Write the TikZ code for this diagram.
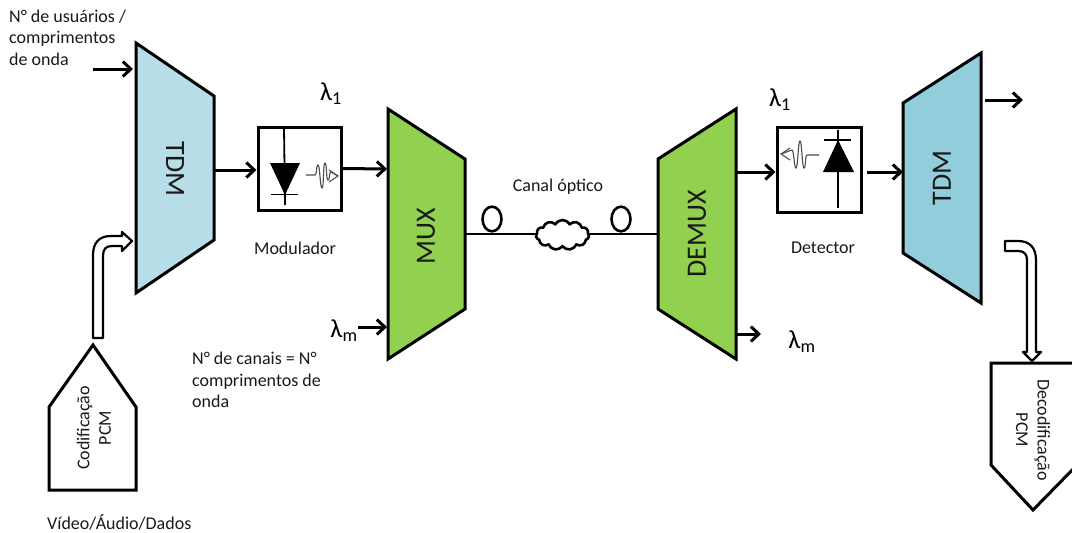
\documentclass[tikz,border=0pt]{standalone}
\usepackage{fontspec}
\setmainfont{Carlito}
\usetikzlibrary{shapes.symbols,arrows.meta}
\tikzset{
  lbl/.style={font=\fontsize{18}{21.5}\selectfont,inner sep=0pt,align=left,text=black!90},
  lam/.style={font=\fontsize{26}{26}\selectfont,inner sep=0pt},
  blocktxt/.style={font=\fontsize{28}{28}\selectfont,inner sep=0pt,text=black!90},
  trap/.style={draw=black,line width=3pt,line join=miter},
  box/.style={draw=black,line width=3pt,fill=white,inner sep=0pt},
  flow/.style={draw=black,line width=3pt,-{Straight Barb[length=8pt,width=15pt,line width=3pt]}},
  hollow/.style={draw=black,line width=2.2pt,fill=white,line join=round},
  penta/.style={draw=black,line width=3pt,fill=white,line join=miter},
  wave/.style={draw=black!70,line width=1.1pt},
  diode/.style={draw=black,line width=1.8pt},
  fibre/.style={draw=black,line width=2.6pt}
}
\begin{document}
\begin{tikzpicture}[x=1pt,y=-1pt]
\useasboundingbox (0,0) rectangle (1072,533);
\clip (0,0) rectangle (1072,533);
% blocks
\draw[trap,fill={rgb,255:red,183;green,221;blue,232}] (136,43)--(214,96)--(214,240)--(136,293)--cycle;
\draw[trap,fill={rgb,255:red,146;green,205;blue,220}] (903,103)--(981,53)--(981,303)--(903,253)--cycle;
\draw[trap,fill={rgb,255:red,146;green,208;blue,80}] (388,109)--(465,159)--(465,309)--(388,359)--cycle;
\draw[trap,fill={rgb,255:red,146;green,208;blue,80}] (658,159)--(736,109)--(736,359)--(658,309)--cycle;
\node[blocktxt,rotate=-90] (tdmA) at (175,169) {TDM};
\node[blocktxt,rotate=90] (tdmB) at (942,178) {TDM};
\node[blocktxt,rotate=90] (mux) at (426,236) {MUX};
\node[blocktxt,rotate=90] (demux) at (697,234) {DEMUX};
% anchors on the block edges
\coordinate (tdmAin) at (133,69);
\coordinate (tdmAinFree) at (93,69);
\coordinate (tdmAout) at (214,170);
\coordinate (muxIn) at (387,169);
\coordinate (muxIn2) at (387,327);
\coordinate (muxIn2Free) at (358,327);
\coordinate (muxOut) at (465,234);
\coordinate (demuxIn) at (658,234);
\coordinate (demuxOut) at (737,172);
\coordinate (demuxOut2) at (737,334);
\coordinate (demuxOut2Free) at (761,334);
\coordinate (tdmBin) at (903,172);
\coordinate (tdmBinFree) at (867,172);
\coordinate (tdmBout) at (985,100);
\coordinate (tdmBoutFree) at (1023,100);
% modulator and detector boxes
\node[box,minimum width=83pt,minimum height=83pt] (mod) at (299.5,168.5) {};
\node[box,minimum width=84pt,minimum height=85pt] (det) at (819,169.5) {};
% modulator content
\draw[diode] (284,127)--(285,205);
\fill[black] (270,163)--(300,163)--(285,195)--cycle;
\draw[diode] (271,194.5)--(298,194.5);
\draw[wave] (306,175)--(315,175) .. controls (317,175) and (316,165) .. (318,165) .. controls (320,165) and (320,188) .. (322,188) .. controls (324,188) and (323,163) .. (325,163) .. controls (327,163) and (326,180) .. (328,180) .. controls (330,180) and (329,172) .. (331,172) -- (338,176);
\draw[wave] (329,170)--(338,176)--(329,182);
% detector content
\draw[diode] (838,130)--(838,208);
\fill[black] (823,172)--(854,172)--(838,140)--cycle;
\draw[diode] (824,140)--(851,140);
\draw[wave] (819,155)--(807,155) .. controls (805,155) and (806,168) .. (804,168) .. controls (802,168) and (802,141) .. (800,141) .. controls (798,141) and (798,168) .. (796,168) .. controls (794,168) and (794,150) .. (792,150) -- (781,154);
\draw[wave] (790,148)--(781,154)--(790,160);
% flow arrows
\draw[flow] (tdmAinFree)--(tdmAin);
\draw[flow] (tdmAout)--(mod.west |- tdmAout);
\draw[flow] (mod.east)--(muxIn);
\draw[flow] (muxIn2Free)--(muxIn2);
\draw[flow] (demuxOut)--(det.west |- tdmBin);
\draw[flow] (tdmBinFree)--(tdmBin);
\draw[flow] (demuxOut2)--(demuxOut2Free);
\draw[flow] (tdmBout)--(tdmBoutFree);
% fibre
\node[draw=black,line width=2.6pt,circle,minimum size=19pt,inner sep=0pt,yscale=1.3] (loopA) at (492,219) {};
\node[draw=black,line width=2.6pt,circle,minimum size=19pt,inner sep=0pt,yscale=1.3] (loopB) at (621,219) {};
\draw[fibre] (muxOut)--(demuxIn);
\node[draw=black,line width=2.6pt,fill=white,cloud,cloud puffs=11,cloud puff arc=120,aspect=2,minimum width=53pt,minimum height=30pt,inner sep=0pt] (cloudN) at (562.5,235) {};
% pentagons
\node[inner sep=0pt,minimum width=87pt,minimum height=145pt] (cod) at (92.5,417.5) {};
\draw[penta] (49,490)--(136,490)--(136,407)--(93,345)--(49,407)--cycle;
\node[lbl,rotate=90,align=center] (codt) at (94,428) {Codificação\\PCM};
\node[inner sep=0pt,minimum width=84pt,minimum height=148pt] (dec) at (1033.5,436) {};
\draw[penta] (991,363)--(1080,363)--(1080,462)--(1033,510)--(991,465)--cycle;
\node[lbl,rotate=-90,align=center] (dect) at (1033,430) {Decodificação\\PCM};
% hollow arrows
\draw[hollow] (93,338)--(103,338)--(103,256) .. controls (103,249) and (106,246) .. (112,246) -- (122,246)--(122,251)--(132,241)--(122,232)--(122,236)--(111,236) .. controls (99,236) and (93,243) .. (93,255) -- cycle;
\draw[hollow] (1005,241)--(1018,241) .. controls (1030,241) and (1036,248) .. (1036,260) -- (1036,352)--(1041,352)--(1032,361)--(1023,352)--(1027,352)--(1027,260) .. controls (1027,254) and (1024,251) .. (1018,251) -- (1005,251) -- cycle;
% labels
\node[lbl,anchor=north west] (users) at (9,9.5) {N° de usuários /\\comprimentos\\de onda};
\node[lbl] (modl) at (295,248) {Modulador};
\node[lbl] (detl) at (823,248) {Detector};
\node[lbl] (canal) at (558,187) {Canal óptico};
\node[lbl,anchor=north west] (ncan) at (192,352) {N° de canais = N°\\comprimentos de\\onda};
\node[lbl,anchor=west] (vid) at (47,522) {Vídeo/Áudio/Dados};
\node[lam] (l1a) at (331,94) {λ\textsubscript{1}};
\node[lam] (l1b) at (780,100) {λ\textsubscript{1}};
\node[lam] (lma) at (344,331) {λ\textsubscript{m}};
\node[lam] (lmb) at (802,342) {λ\textsubscript{m}};
\end{tikzpicture}
\end{document}
